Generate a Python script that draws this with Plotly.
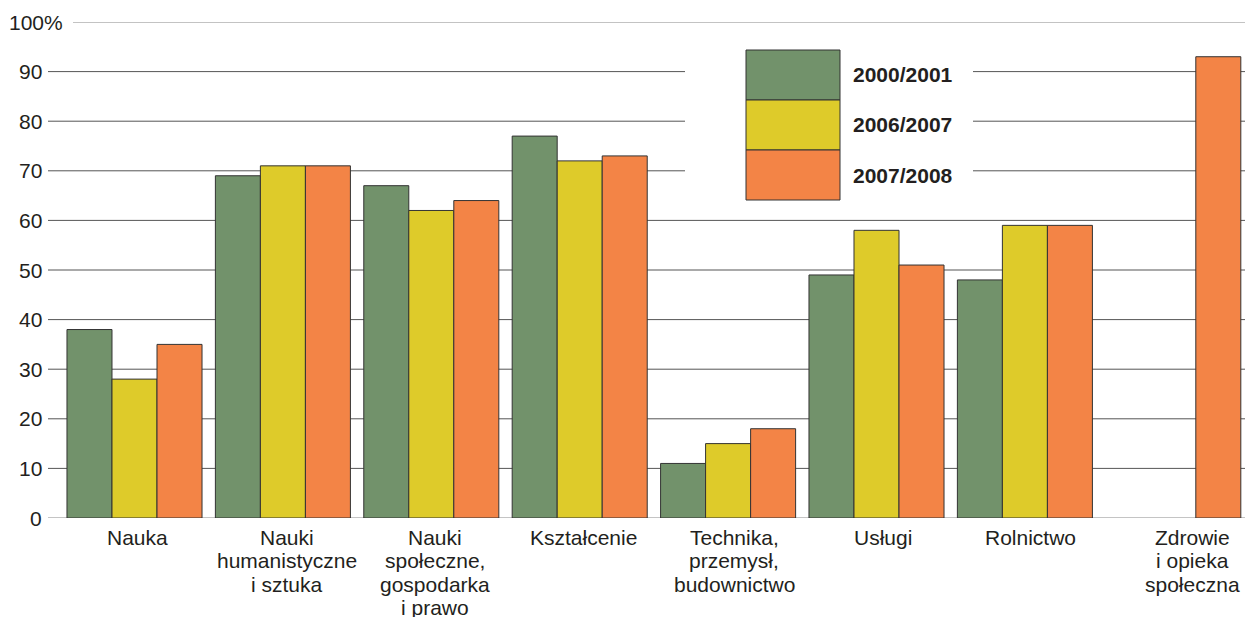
import plotly.graph_objects as go

categories = ["Nauka", "Nauki<br>humanistyczne<br>i sztuka", "Nauki<br>społeczne,<br>gospodarka<br>i prawo",
              "Kształcenie", "Technika,<br>przemysł,<br>budownictwo", "Usługi", "Rolnictwo",
              "Zdrowie<br>i opieka<br>społeczna"]
series_names = ["2000/2001", "2006/2007", "2007/2008"]
v2000 = [38, 69, 67, 77, 11, 49, 48, None]
v2006 = [28, 71, 62, 72, 15, 58, 59, None]
v2007 = [35, 71, 64, 73, 18, 51, 59, 93]
tick_vals = [0, 10, 20, 30, 40, 50, 60, 70, 80, 90, 100]
tick_text = ["0", "10", "20", "30", "40", "50", "60", "70", "80", "90", "100%"]
colors = ["#72926B", "#DECB2A", "#F38446"]

W, H = 1245, 617
L, R, T, B = 48, 0, 22, 99
PW = W - L - R
PH = H - T - B
FONT = "Liberation Sans, Arial, sans-serif"
FS = 21
TXT = "#231F20"

def px_x(p):
    return (p - L) / PW

def px_y(p):
    return (H - B - p) / PH

fig = go.Figure()
xs = list(range(len(categories)))
for name, vals, col in zip(series_names, [v2000, v2006, v2007], colors):
    fig.add_trace(go.Bar(x=xs, y=vals, name=name, marker=dict(color=col, line=dict(color="#333333", width=1)),
                         showlegend=False, hoverinfo="skip"))

shapes = []
for v in tick_vals:
    x0 = px_x(73) if v == 100 else 0
    col = "#555555"
    if v in (70, 80, 90):
        shapes.append(dict(type="line", xref="paper", yref="y", x0=x0, x1=px_x(685), y0=v, y1=v,
                           line=dict(color=col, width=1), layer="below"))
        shapes.append(dict(type="line", xref="paper", yref="y", x0=px_x(973), x1=1, y0=v, y1=v,
                           line=dict(color=col, width=1), layer="below"))
    else:
        shapes.append(dict(type="line", xref="paper", yref="y", x0=x0, x1=1, y0=v, y1=v,
                           line=dict(color="#888888" if v in (0, 100) else col, width=1), layer="below"))

annotations = []
for v, t in zip(tick_vals, tick_text):
    if v == 100:
        annotations.append(dict(x=px_x(7), y=v, xref="paper", yref="y", text=t, showarrow=False,
                                xanchor="left", yanchor="middle", font=dict(size=FS, color=TXT, family=FONT)))
    else:
        annotations.append(dict(x=px_x(44), y=v, xref="paper", yref="y", text=t, showarrow=False,
                                xanchor="right", yanchor="middle", font=dict(size=FS, color=TXT, family=FONT)))

xshifts = [3, 4, 4, 4, 6, 6, 6, 19]
for i, (c, s) in enumerate(zip(categories, xshifts)):
    for j, line in enumerate(c.split("<br>")):
        annotations.append(dict(x=i, y=0, xref="x", yref="y", text=line, showarrow=False, xanchor="center",
                                yanchor="middle", yshift=-19 - 23.5 * j, xshift=s,
                                font=dict(size=FS, color=TXT, family=FONT)))

for k, (name, col) in enumerate(zip(series_names, colors)):
    y_top = 50 + k * 50
    shapes.append(dict(type="rect", xref="paper", yref="paper", x0=px_x(746), x1=px_x(840),
                       y0=px_y(y_top + 50), y1=px_y(y_top), fillcolor=col,
                       line=dict(color="#333333", width=1)))
    annotations.append(dict(x=px_x(851), y=px_y(y_top + 25), xref="paper", yref="paper",
                            text="<b>%s</b>" % name, showarrow=False, xanchor="left", yanchor="middle",
                            font=dict(size=FS, color=TXT, family=FONT)))

fig.update_layout(
    width=W, height=H, margin=dict(l=L, r=R, t=T, b=B),
    paper_bgcolor="white", plot_bgcolor="white",
    barmode="group", bargap=0.09, bargroupgap=0,
    xaxis=dict(range=[(L - 134.5) / 148.4, (W - R - 134.5) / 148.4], showticklabels=False,
               showgrid=False, zeroline=False, showline=False, ticks=""),
    yaxis=dict(range=[0, 100], showticklabels=False, showgrid=False, zeroline=False, showline=False),
    shapes=shapes, annotations=annotations, showlegend=False,
)
fig.write_html("out.html", config={"displayModeBar": False},
               post_script="document.body.style.margin='0';document.body.style.overflow='hidden';")
